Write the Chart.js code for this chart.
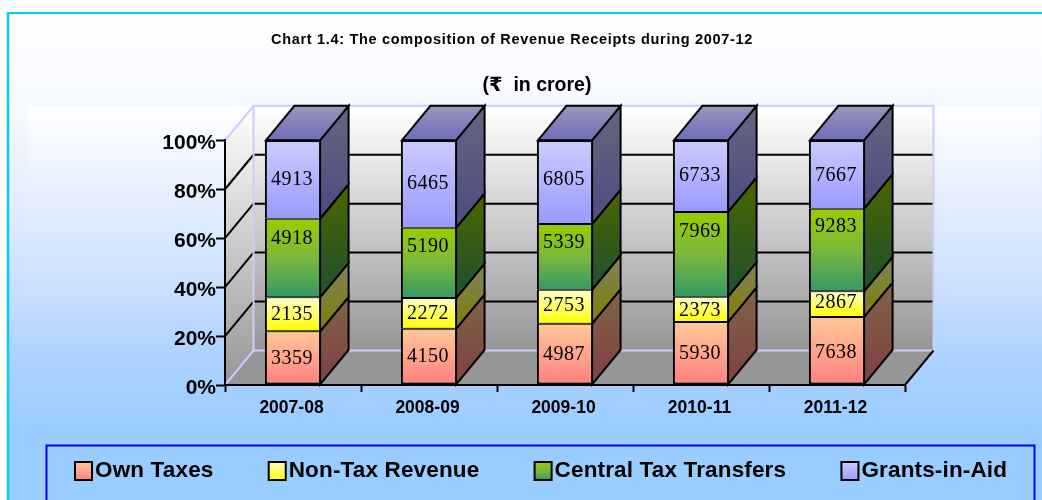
<!DOCTYPE html>
<html><head><meta charset="utf-8">
<style>html,body{margin:0;padding:0;background:#fff}canvas{display:block}</style>
<script src="https://cdn.jsdelivr.net/npm/chart.js@4"></script></head>
<body><div style="width:1042px;height:500px"><canvas id="c" width="1042" height="500"></canvas></div>
<script>
const categories = ['2007-08','2008-09','2009-10','2010-11','2011-12'];
const ownTaxes = [3359,4150,4987,5930,7638];
const nonTaxRevenue = [2135,2272,2753,2373,2867];
const centralTaxTransfers = [4918,5190,5339,7969,9283];
const grantsInAid = [4913,6465,6805,6733,7667];
const seriesNames = ['Own Taxes','Non-Tax Revenue','Central Tax Transfers','Grants-in-Aid'];
const yTicks = [0,20,40,60,80,100];
const titleText = 'Chart 1.4: The composition of Revenue Receipts during 2007-12';
const subtitleText = '(\u20B9  in crore)';

const seriesValues = [ownTaxes,nonTaxRevenue,centralTaxTransfers,grantsInAid];
const totals = categories.map((_,i)=>seriesValues.reduce((s,a)=>s+a[i],0));
const shares = seriesValues.map(a=>a.map((v,i)=>v/totals[i]*100));

// look
const faceGrad = [['#FFC898','#FF8080'],['#FFFFCC','#FFFF00'],['#99CC00','#7CB83C','#339966'],['#CCCCFF','#9999FF']];
const sideGrad = [['#7F6448','#804040'],['#808060','#808000'],['#4C6600','#1E5030'],['#666680','#4C4C80']];
const labelNudge = [[1,0,1,1,2],[0,0,-1,1,-1],[-19,-16,-14,-23,-23],[0,0,-2,0,1]];
const DEPTH_X = 28.5, DEPTH_Y = 34.5;
const SANS = '"Liberation Sans","DejaVu Sans",sans-serif';

function vGrad(ctx,y0,y1,c){const g=ctx.createLinearGradient(0,y0,0,y1);c.forEach((col,i)=>g.addColorStop(i/(c.length-1),col));return g;}
function poly(ctx,pts){ctx.beginPath();pts.forEach((p,i)=>i?ctx.lineTo(p[0],p[1]):ctx.moveTo(p[0],p[1]));ctx.closePath();}
function seg(ctx,a,b,col,w){ctx.strokeStyle=col;ctx.lineWidth=w;ctx.beginPath();ctx.moveTo(a[0],a[1]);ctx.lineTo(b[0],b[1]);ctx.stroke();}
function pageGrad(ctx,start){
  const g=ctx.createLinearGradient(0,14,0,430);
  g.addColorStop(0,'#FFFFFF');g.addColorStop(92/416,start);g.addColorStop(186/416,'#E4EEFF');
  g.addColorStop(286/416,'#C6DDFF');g.addColorStop(336/416,'#B0D3FF');g.addColorStop(1,'#99CCFF');
  return g;
}

function spaced(box,px){
  const d=box.draw.bind(box);
  box.draw=function(a){box.ctx.letterSpacing=px;d(a);box.ctx.letterSpacing='0px';};
  if(box.fit){
    const f=box.fit.bind(box);
    box.fit=function(){box.ctx.letterSpacing=px;f();box.ctx.letterSpacing='0px';};
  }
}

const scene = {
  id:'scene',
  beforeLayout(chart){
    if(chart.$wrapped) return; chart.$wrapped=true;
    const l=chart.legend, fit0=l.fit.bind(l);
    l.fit=function(){l.maxWidth=1400;fit0();l.height=55;};
    spaced(chart.titleBlock,'0.69px');
    spaced(l,'0.15px');
  },
  afterLayout(chart){
    const t=chart.titleBlock; t.left=-9; t.right=1033;
    const s=chart.boxes.find(b=>b!==t&&b.options&&b.options.text===subtitleText);
    if(s){s.left=16;s.right=1058;}
    const l=chart.legend;
    l.left=19.75; l.right=1400; l.top=405.5;
  },
  beforeDraw(chart){
    const {ctx,chartArea:a,scales:{y}}=chart;
    ctx.save();
    ctx.fillStyle='#fff';ctx.fillRect(0,0,1042,500);
    ctx.fillStyle=pageGrad(ctx,'#F6F9FF');ctx.fillRect(9,14,1033,486);
    ctx.fillStyle=pageGrad(ctx,'#FFFFFF');ctx.fillRect(28,106,1012,359);
    seg(ctx,[8,13],[1042,13],'#00CCFF',2);
    seg(ctx,[8,12],[8,500],'#00CCFF',2.5);
    ctx.strokeStyle='#0000FF';ctx.lineWidth=2;ctx.beginPath();
    ctx.moveTo(46.5,501);ctx.lineTo(46.5,445.5);ctx.lineTo(1034.5,445.5);ctx.lineTo(1034.5,501);ctx.stroke();

    const L=a.left,R=a.right,dx=DEPTH_X,dy=DEPTH_Y,T=y.getPixelForValue(100),B=y.getPixelForValue(0);
    ctx.fillStyle=vGrad(ctx,T-dy,B-dy,['#FFFFFF','#969696']);
    ctx.fillRect(L+dx,T-dy,R-L,B-T);
    ctx.fillStyle=vGrad(ctx,T-dy,B,['#FFFFFF','#969696']);
    poly(ctx,[[L,T],[L+dx,T-dy],[L+dx,B-dy],[L,B]]);ctx.fill();
    ctx.fillStyle='#969696';
    poly(ctx,[[L,B],[L+dx,B-dy],[R+dx,B-dy],[R,B]]);ctx.fill();
    yTicks.slice(1,-1).forEach(v=>{
      const p=y.getPixelForValue(v);
      seg(ctx,[L,p],[L+dx,p-dy],'#000',2);
      seg(ctx,[L+dx,p-dy],[R+dx,p-dy],'#000',2);
    });
    const lav='#CCCCFF';
    seg(ctx,[L,T],[L+dx,T-dy],lav,2);
    seg(ctx,[L,B],[L+dx,B-dy],lav,2);
    ctx.strokeStyle=lav;ctx.lineWidth=2;ctx.strokeRect(L+dx,T-dy,R-L,B-T);
    seg(ctx,[R,B],[R+dx,B-dy],'#000',2);
    ctx.restore();
  },
  beforeDatasetsDraw(chart){
    const {ctx}=chart; ctx.save();ctx.lineJoin='miter';
    const dx=DEPTH_X,dy=DEPTH_Y;
    chart.data.datasets.forEach((ds,di)=>{
      chart.getDatasetMeta(di).data.forEach(bar=>{
        const r=bar.x+bar.width/2-1,top=bar.y,base=bar.base;
        ctx.fillStyle=vGrad(ctx,top-dy,base,sideGrad[di]);
        poly(ctx,[[r,top],[r+dx,top-dy],[r+dx,base-dy],[r,base]]);ctx.fill();
        ctx.strokeStyle='#000';ctx.lineWidth=2;ctx.stroke();
        if(di===chart.data.datasets.length-1){
          const l=bar.x-bar.width/2+1;
          ctx.fillStyle=vGrad(ctx,top-dy,top,['#9A96BE','#6E6EB8']);
          poly(ctx,[[l,top],[l+dx,top-dy],[r+dx,top-dy],[r,top]]);ctx.fill();ctx.stroke();
        }
      });
    });
    ctx.restore();
  },
  afterDatasetsDraw(chart){
    const {ctx}=chart; ctx.save();
    ctx.font='20px "Liberation Serif",serif';ctx.letterSpacing='0.5px';ctx.fillStyle='#000';ctx.textAlign='center';ctx.textBaseline='middle';
    chart.data.datasets.forEach((ds,di)=>{
      chart.getDatasetMeta(di).data.forEach((bar,i)=>{
        ctx.fillText(String(seriesValues[di][i]),bar.x-1,(bar.y+bar.base)/2+labelNudge[di][i]);
      });
    });
    ctx.letterSpacing='0px';
    ctx.restore();
  },
  afterDraw(chart){
    const {ctx}=chart,l=chart.legend; ctx.save();
    const cy=471;
    l.legendHitBoxes.forEach((h,i)=>{
      const x=h.left+1.25;
      ctx.fillStyle=vGrad(ctx,cy-9,cy+9,faceGrad[i]);
      ctx.fillRect(x,cy-9,17,18);
      ctx.strokeStyle='#000';ctx.lineWidth=2;ctx.strokeRect(x,cy-9,17,18);
    });
    ctx.restore();
  }
};

const barGradient = di => c => {
  if(c.dataIndex===undefined) return faceGrad[di][0];
  const y=c.chart.scales.y; if(!y) return faceGrad[di][0];
  let low=0; for(let k=0;k<di;k++) low+=shares[k][c.dataIndex];
  return vGrad(c.chart.ctx,y.getPixelForValue(low+shares[di][c.dataIndex]),y.getPixelForValue(low),faceGrad[di]);
};

new Chart(document.getElementById('c'),{
  type:'bar',
  data:{labels:categories,datasets:seriesNames.map((n,di)=>({
    label:n,data:shares[di],backgroundColor:barGradient(di),borderColor:'#000',
    borderWidth:{left:2,right:2,top:di===seriesNames.length-1?2:1,bottom:di===0?2:1},
    borderSkipped:false,categoryPercentage:1,barPercentage:0.413,stack:'s'}))},
  plugins:[scene],
  options:{
    responsive:false,animation:false,
    layout:{padding:{left:0,right:137,top:0,bottom:0}},
    plugins:{
      tooltip:{enabled:false},
      title:{display:true,text:titleText,color:'#000',font:{family:SANS,size:14.5,weight:'bold',lineHeight:1.2},padding:{top:31.5,bottom:18}},
      subtitle:{display:true,text:subtitleText,color:'#000',font:{family:SANS,size:19.5,weight:'bold',lineHeight:1.2},padding:{top:7.5,bottom:42.5}},
      legend:{position:'bottom',align:'start',labels:{
        font:{family:SANS,size:22.5,weight:'bold'},color:'#000',boxWidth:10,boxHeight:18,padding:54,
        generateLabels:ch=>ch.data.datasets.map((d,i)=>({text:d.label,fillStyle:'rgba(0,0,0,0)',strokeStyle:'rgba(0,0,0,0)',lineWidth:0,datasetIndex:i,fontColor:'#000'}))
      }}
    },
    scales:{
      x:{stacked:true,offset:true,
        grid:{drawOnChartArea:false,drawTicks:true,tickLength:7,tickWidth:2,tickColor:'#000'},
        border:{color:'#000',width:2},
        ticks:{color:'#000',padding:6,labelOffset:-1.5,maxRotation:0,font:{family:SANS,size:17.5,weight:'bold'}},
        afterFit:s=>{s.height=60;}},
      y:{stacked:true,min:0,max:100,
        grid:{drawOnChartArea:false,drawTicks:true,tickLength:9,tickWidth:2,tickColor:'#000'},
        border:{color:'#000',width:2},
        ticks:{color:'#000',stepSize:20,padding:0,labelOffset:3,callback:v=>v+'%',font:{family:SANS,size:21,weight:'bold'}},
        afterFit:s=>{s.width=225;}}
    }
  }
});
</script></body></html>
